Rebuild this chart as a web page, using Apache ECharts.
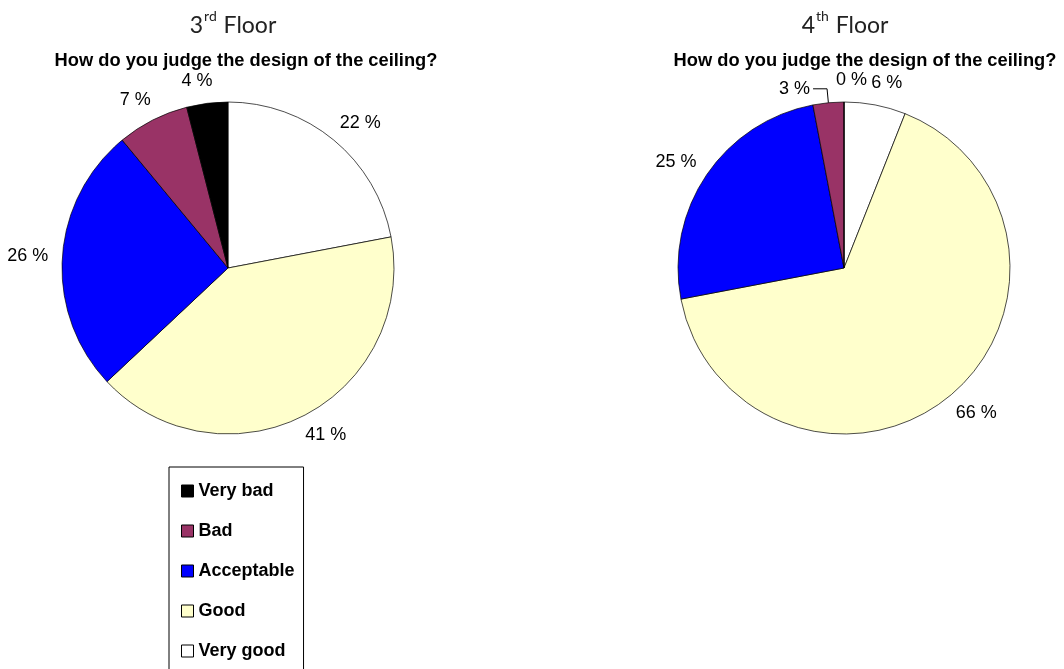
<!DOCTYPE html>
<html>
<head>
<meta charset="utf-8">
<script src="https://cdn.jsdelivr.net/npm/echarts@6/dist/echarts.min.js"></script>
<style>
  html, body { margin: 0; padding: 0; background: #fff; }
  #chart { width: 1064px; height: 669px; }
</style>
</head>
<body>
<div id="chart"></div>
<script>
// answers, in legend order
var categories = ['Very bad', 'Bad', 'Acceptable', 'Good', 'Very good'];
var floor3 = [4, 7, 26, 41, 22];
var floor4 = [0, 3, 25, 66, 6];
var colors = ['#000000', '#993366', '#0000FF', '#FFFFCC', '#FFFFFF'];

var question = 'How do you judge the design of the ceiling?';

// pie runs clockwise from 12 o'clock starting with "Very good"
function pieData(values, lineIdx) {
	var out = [];
	for (var i = categories.length - 1; i >= 0; i--) {
		var item = {
			name: categories[i],
			value: values[i],
			itemStyle: { color: colors[i] }
		};
		if (i === lineIdx) {
			// small slice gets a leader line
			item.labelLine = { show: true, length: 14, length2: 14 };
			item.label = { distanceToLabelLine: 3 };
		}
		out.push(item);
	}
	return out;
}

function floorTitle(num, sup, left) {
	return {
		text: '{n|' + num + '}{s|' + sup + '}{n| Floor}',
		left: left,
		top: 4,
		textAlign: 'center',
		textStyle: {
			rich: {
				n: { fontFamily: 'Lato', fontWeight: 'normal', fontSize: 23, color: '#222', verticalAlign: 'bottom', lineHeight: 28 },
				s: { fontFamily: 'Lato', fontWeight: 'normal', fontSize: 14, color: '#222', verticalAlign: 'top', lineHeight: 28, padding: [0, 1, 12, 1] }
			}
		}
	};
}

function questionTitle(left) {
	return {
		text: question,
		left: left,
		top: 47,
		textAlign: 'center',
		textStyle: { fontFamily: 'Liberation Sans', fontWeight: 'bold', fontSize: 18.3, color: '#000' }
	};
}

var pieBase = {
	type: 'pie',
	radius: 166,
	startAngle: 90,
	clockwise: true,
	avoidLabelOverlap: false,
	silent: true,
	itemStyle: { borderColor: '#000', borderWidth: 0.7 },
	label: {
		show: true,
		position: 'outside',
		formatter: '{c} %',
		fontFamily: 'Liberation Sans',
		fontSize: 18,
		color: '#000',
		distanceToLabelLine: -8
	},
	labelLine: {
		show: false,
		length: 22,
		length2: 0,
		lineStyle: { color: '#000', width: 1 }
	}
};

var chart = echarts.init(document.getElementById('chart'));
chart.setOption({
	animation: false,
	title: [
		floorTitle('3', 'rd', 228),
		floorTitle('4', 'th', 840),
		questionTitle(241),
		questionTitle(860)
	],
	legend: {
		orient: 'vertical',
		left: 169,
		top: 467,
		height: 260,
		data: categories,
		icon: 'rect',
		itemWidth: 12,
		itemHeight: 12,
		itemGap: 22,
		padding: [15, 9, 17, 12],
		borderColor: '#000',
		borderWidth: 1,
		selectedMode: false,
		textStyle: { fontFamily: 'Liberation Sans', fontWeight: 'bold', fontSize: 18, color: '#000' },
		itemStyle: { borderColor: '#000', borderWidth: 1 }
	},
	series: [
		Object.assign({}, pieBase, { name: '3rd Floor', center: [228, 268], data: pieData(floor3, -1) }),
		Object.assign({}, pieBase, { name: '4th Floor', center: [844, 268], data: pieData(floor4, 1) })
	]
});
</script>
</body>
</html>
